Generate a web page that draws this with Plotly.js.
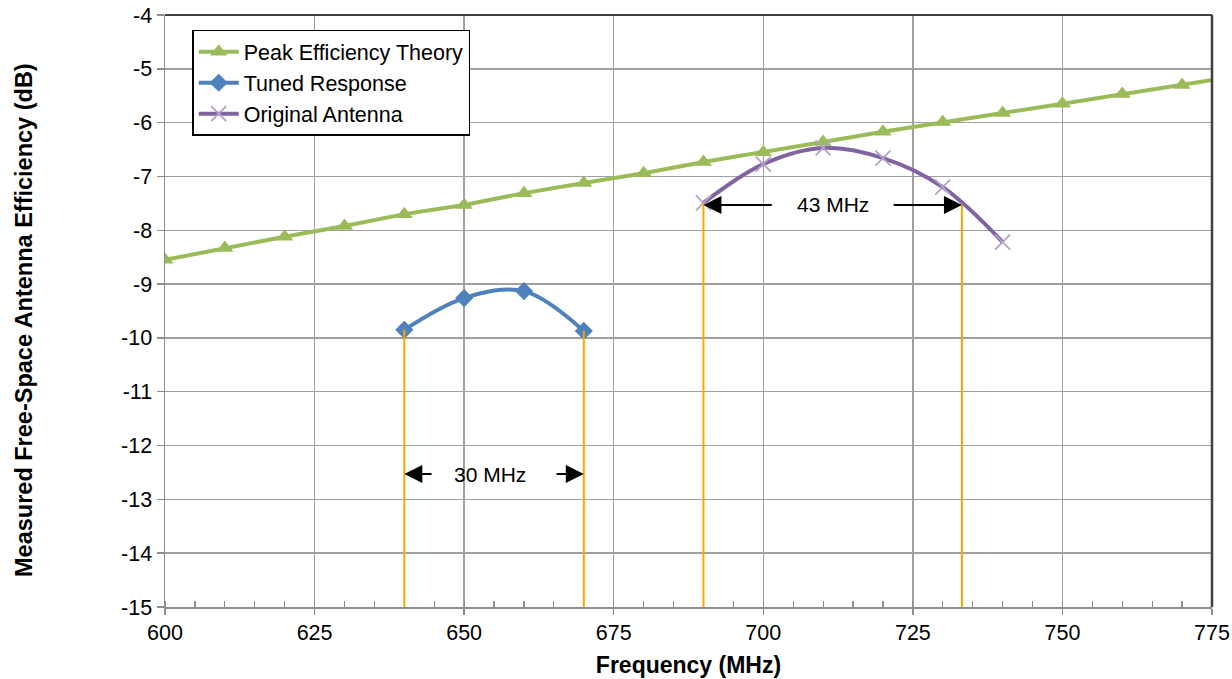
<!DOCTYPE html>
<html>
<head>
<meta charset="utf-8">
<script src="https://cdn.plot.ly/plotly-3.0.1.min.js"></script>
<style>html,body{margin:0;padding:0;background:#fff;}#chart{width:1232px;height:679px;}</style>
</head>
<body>
<div id="chart"></div>
<script>
// ---- data ----
const theoryFreq = [600,610,620,630,640,650,660,670,680,690,700,710,720,730,740,750,760,770,780];
const theoryEff  = [-8.55,-8.33,-8.12,-7.92,-7.70,-7.53,-7.31,-7.12,-6.94,-6.73,-6.55,-6.36,-6.17,-5.99,-5.82,-5.65,-5.47,-5.30,-5.12];

const tunedFreq = [640,650,660,670];
const tunedEff  = [-9.85,-9.26,-9.13,-9.87];

const origFreq = [690,700,710,720,730,740];
const origEff  = [-7.49,-6.77,-6.47,-6.66,-7.20,-8.22];

// bandwidth edges (frequency, top value of marker line)
const tunedEdges = [640,670];
const tunedEdgeTop = [-9.85,-9.87];
const origEdges = [690,733.2];
const origEdgeTop = [-7.49,-7.52];

const bwLabels = ['30 MHz','43 MHz'];
const bwLabelY = [-12.53,-7.53];

const xTickVals = [600,625,650,675,700,725,750,775];
const yTickVals = [-15,-14,-13,-12,-11,-10,-9,-8,-7,-6,-5,-4];

const FONT = 'Liberation Sans, Arial, sans-serif';

const traces = [
  {x: theoryFreq, y: theoryEff, name: 'Peak Efficiency Theory', mode: 'lines+markers',
   line: {color: '#9BBB59', width: 4},
   marker: {symbol: 'triangle-up', size: 15, color: '#9BBB59'}},
  {x: tunedFreq, y: tunedEff, name: 'Tuned Response', mode: 'lines+markers',
   line: {color: '#4F81BD', width: 4, shape: 'spline', smoothing: 1},
   marker: {symbol: 'diamond', size: 14, color: '#4F81BD'}},
  {x: origFreq, y: origEff, name: 'Original Antenna', mode: 'lines+markers',
   line: {color: '#8064A2', width: 4, shape: 'spline', smoothing: 1},
   marker: {symbol: 'x-thin', size: 15, line: {color: '#B3A2C7', width: 1.8}, color: '#B3A2C7'}}
];

const shapes = [];
const allEdges = tunedEdges.concat(origEdges);
const allTops = tunedEdgeTop.concat(origEdgeTop);
for (let i = 0; i < allEdges.length; i++) {
  shapes.push({type: 'line', xref: 'x', yref: 'y', x0: allEdges[i], x1: allEdges[i], y0: -15, y1: allTops[i],
    line: {color: '#FFA500', width: 2}, layer: 'above'});
}
// dark top/right border
shapes.push({type: 'line', xref: 'paper', yref: 'paper', x0: 0, x1: 1, y0: 1, y1: 1, line: {color: '#404040', width: 2}});
shapes.push({type: 'line', xref: 'paper', yref: 'paper', x0: 1, x1: 1, y0: 0, y1: 1, line: {color: '#404040', width: 2.5}});

const annotations = [];
const bands = [tunedEdges, origEdges];
for (let i = 0; i < bands.length; i++) {
  const a = bands[i][0], b = bands[i][1];
  const span = b - a;
  const mid = (a + b) / 2;
  const gap = i === 0 ? 0.34 : 0.23;   // fraction of span kept free around the text
  const textX = i === 0 ? mid - 0.6 : mid;
  annotations.push({x: textX, y: bwLabelY[i], xref: 'x', yref: 'y', text: bwLabels[i], showarrow: false,
    font: {family: FONT, size: 21, color: '#000'}});
  annotations.push({x: a, y: bwLabelY[i], ax: mid - span * gap, ay: bwLabelY[i], xref: 'x', yref: 'y', axref: 'x', ayref: 'y',
    text: '', showarrow: true, arrowhead: 2, arrowsize: 1.8, arrowwidth: 2, arrowcolor: '#000', standoff: 0});
  annotations.push({x: b, y: bwLabelY[i], ax: mid + span * gap, ay: bwLabelY[i], xref: 'x', yref: 'y', axref: 'x', ayref: 'y',
    text: '', showarrow: true, arrowhead: 2, arrowsize: 1.8, arrowwidth: 2, arrowcolor: '#000', standoff: 0});
}
// y-axis title
annotations.push({xref: 'paper', yref: 'paper', x: -0.1347, y: 0.4848, xanchor: 'center', yanchor: 'middle',
  textangle: -90, showarrow: false, text: '<b>Measured Free-Space Antenna Efficiency (dB)</b>',
  font: {family: FONT, size: 23.5, color: '#000'}});

const layout = {
  width: 1232, height: 679,
  margin: {l: 165, r: 20, t: 15, b: 72},
  paper_bgcolor: '#fff', plot_bgcolor: '#fff',
  font: {family: FONT, size: 20, color: '#000'},
  showlegend: true,
  legend: {x: 0.026, y: 0.975, xanchor: 'left', yanchor: 'top', bgcolor: '#fff',
    bordercolor: '#000', borderwidth: 1.5, font: {family: FONT, size: 21.5, color: '#000'},
    tracegroupgap: 0, itemwidth: 40},
  xaxis: {range: [600, 775], tickvals: xTickVals, ticktext: xTickVals.map(String),
    showgrid: true, gridcolor: '#A0A0A0', gridwidth: 1.5,
    showline: true, linecolor: '#8C8C8C', linewidth: 1.5,
    ticks: 'outside', ticklen: 6, tickcolor: '#8C8C8C', tickwidth: 1.5,
    minor: {dtick: 5, ticks: 'inside', ticklen: 6, tickcolor: '#8C8C8C', tickwidth: 1.2, showgrid: false},
    tickfont: {family: FONT, size: 21.5, color: '#000'},
    zeroline: false,
    title: {text: '<b>Frequency (MHz)</b>', font: {family: FONT, size: 23, color: '#000'}, standoff: 12}},
  yaxis: {range: [-15, -4], tickvals: yTickVals, ticktext: yTickVals.map(String),
    showgrid: true, gridcolor: '#A0A0A0', gridwidth: 1.5,
    showline: true, linecolor: '#8C8C8C', linewidth: 1.5,
    ticks: 'outside', ticklen: 7, tickcolor: '#8C8C8C', tickwidth: 1.5,
    tickfont: {family: FONT, size: 21.5, color: '#000'},
    zeroline: false},
  shapes: shapes,
  annotations: annotations
};

Plotly.newPlot('chart', traces, layout, {displayModeBar: false, staticPlot: true});
</script>
</body>
</html>
